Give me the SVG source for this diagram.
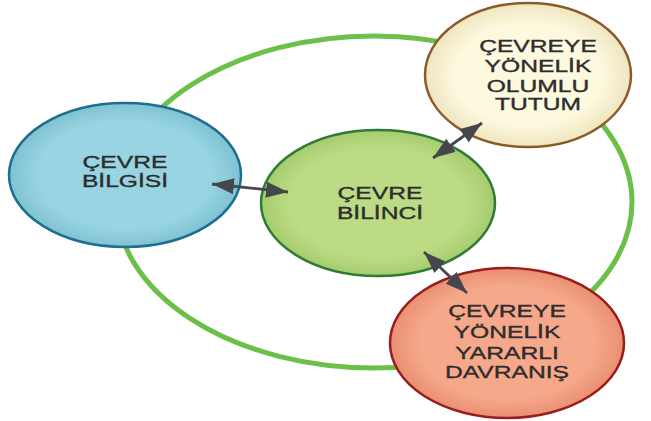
<svg xmlns="http://www.w3.org/2000/svg" width="651" height="421" viewBox="0 0 651 421">
<defs>
<radialGradient id="gBlue" cx="50%" cy="50%" r="50%"><stop offset="0.75" stop-color="#98d4e1"/><stop offset="1" stop-color="#7fc2d3"/></radialGradient>
<radialGradient id="gGreen" cx="50%" cy="50%" r="50%"><stop offset="0.75" stop-color="#bcdb84"/><stop offset="1" stop-color="#a6cc6e"/></radialGradient>
<radialGradient id="gYellow" cx="50%" cy="50%" r="50%"><stop offset="0.7" stop-color="#fdf9df"/><stop offset="1" stop-color="#efe6bf"/></radialGradient>
<radialGradient id="gOrange" cx="50%" cy="50%" r="50%"><stop offset="0.75" stop-color="#f6a88a"/><stop offset="1" stop-color="#e98f72"/></radialGradient>
<marker id="ah" markerUnits="userSpaceOnUse" markerWidth="24" markerHeight="16" viewBox="0 0 24 16" refX="22" refY="8" orient="auto-start-reverse">
<path d="M0,0 L22,8 L0,16 z" fill="#44474c"/>
</marker>
</defs>
<style>
.lbl{font-family:"Liberation Sans",Arial,sans-serif;font-size:17px;fill:#2d2d2d;stroke:#2d2d2d;stroke-width:0.35;text-anchor:middle}
.arr{stroke:#44474c;stroke-width:2.8;fill:none;marker-start:url(#ah);marker-end:url(#ah)}
</style>
<rect width="651" height="421" fill="#ffffff"/>
<g id="ring"><ellipse cx="374" cy="202" rx="258" ry="166" fill="none" stroke="#6cc04a" stroke-width="5"/></g>
<g id="node-bilgi">
<ellipse cx="125" cy="175" rx="116" ry="72" fill="url(#gBlue)" stroke="#1e6e8e" stroke-width="2.5"/>
<g transform="translate(125,0) scale(1.45,1)"><text class="lbl" x="0" y="168">ÇEVRE</text><text class="lbl" x="0" y="187">BİLGİSİ</text></g>
</g>
<g id="node-bilinc">
<ellipse cx="378" cy="203" rx="117" ry="73" fill="url(#gGreen)" stroke="#2f7a34" stroke-width="2.5"/>
<g transform="translate(380,0) scale(1.45,1)"><text class="lbl" x="0" y="199">ÇEVRE</text><text class="lbl" x="0" y="219">BİLİNCİ</text></g>
</g>
<g id="node-tutum">
<ellipse cx="528" cy="75" rx="103" ry="72" fill="url(#gYellow)" stroke="#8b5a2b" stroke-width="2.5"/>
<g transform="translate(538,0) scale(1.45,1)"><text class="lbl" x="0" y="52">ÇEVREYE</text><text class="lbl" x="0" y="72">YÖNELİK</text><text class="lbl" x="0" y="92">OLUMLU</text><text class="lbl" x="0" y="110">TUTUM</text></g>
</g>
<g id="node-davranis">
<ellipse cx="507" cy="343" rx="117" ry="75" fill="url(#gOrange)" stroke="#9a1c1c" stroke-width="2.5"/>
<g transform="translate(507,0) scale(1.45,1)"><text class="lbl" x="0" y="317">ÇEVREYE</text><text class="lbl" x="0" y="338">YÖNELİK</text><text class="lbl" x="0" y="359">YARARLI</text><text class="lbl" x="0" y="378">DAVRANIŞ</text></g>
</g>
<g id="connectors">
<line class="arr" x1="212" y1="184" x2="288" y2="192"/>
<line class="arr" x1="433" y1="158" x2="482" y2="123"/>
<line class="arr" x1="424" y1="252" x2="467" y2="293"/>
</g>
</svg>
